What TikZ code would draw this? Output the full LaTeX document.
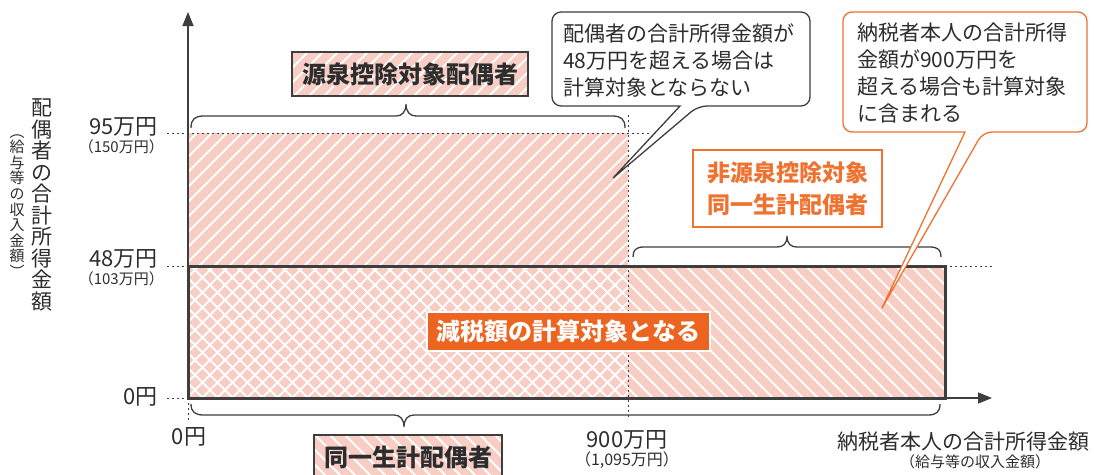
\documentclass[tikz,border=0pt]{standalone}
\usepackage{fontspec}
\setmainfont{Noto Sans CJK JP}
\usetikzlibrary{arrows.meta}
\definecolor{pinkbg}{RGB}{248,205,196}
\definecolor{darkline}{RGB}{62,62,62}
\definecolor{txt}{RGB}{45,45,45}
\definecolor{orangeL}{RGB}{238,114,48}
\definecolor{orangeF}{RGB}{236,100,32}
\newcommand{\hatchF}[4]{%
  \begin{scope}
    \clip (#1,#2) rectangle (#3,#4);
    \foreach \c in {225,240,...,1455} \draw[hatchline] (\c,0) -- ++(-500,500);
  \end{scope}}
\newcommand{\hatchB}[4]{%
  \begin{scope}
    \clip (#1,#2) rectangle (#3,#4);
    \foreach \c in {-300,-285,...,900} \draw[hatchline] (\c,0) -- ++(500,500);
  \end{scope}}
\begin{document}
\begin{tikzpicture}[x=1pt,y=-1pt,
  hatchline/.style={white,line width=1.8pt},
  axis/.style={darkline,line width=1.5pt,-{Triangle[length=14pt,width=11pt]}},
  dotline/.style={darkline,line width=0.9pt,dash pattern=on 2pt off 3pt},
  bracepath/.style={darkline,line width=1.3pt},
  lab/.style={inner sep=0pt,text=txt,font=\fontsize{22}{24}\selectfont},
  smalllab/.style={inner sep=0pt,text=txt,font=\fontsize{15}{17}\selectfont},
  bigbox/.style={draw=darkline,line width=1.4pt,inner sep=0pt,text=txt,font=\fontsize{24}{26}\bfseries\selectfont},
  calltext/.style={inner sep=0pt,text=txt,align=left,font=\fontsize{21}{27}\selectfont},
]
\useasboundingbox (0,0) rectangle (1094,474);
\clip (0,0) rectangle (1094,474);

% ---- filled regions ----
\fill[pinkbg] (188,133) rectangle (628,266);
\fill[pinkbg] (188,266) rectangle (945,398);
\hatchF{188}{133}{628}{398}
\hatchB{188}{266}{945}{398}

% ---- dotted guide lines ----
\draw[dotline] (167,133) -- (650,133);
\draw[dotline] (628,115) -- (628,420);
\draw[dotline] (167,266) -- (188,266);
\draw[dotline] (945,266) -- (992,266);
\draw[dotline] (167,398) -- (188,398);
\draw[dotline] (188,398) -- (188,420);

% ---- thick frame ----
\draw[darkline,line width=3pt] (188,266) rectangle (945,398);

% ---- axes ----
\coordinate (O) at (188,398);
\coordinate (ytip) at (188,12);
\coordinate (xtip) at (992,398);
\draw[axis] (O) -- (ytip);
\draw[axis] (O) -- (xtip);

% ---- braces ----
\draw[bracepath] (191,128) .. controls (191,119) and (195,116) .. (204,116) -- (396,116)
  .. controls (402,116) and (406,112) .. (406,104) .. controls (406,112) and (410,116) .. (416,116)
  -- (612,116) .. controls (621,116) and (625,119) .. (625,128);
\draw[bracepath] (633,257) .. controls (633,250) and (636,247) .. (644,247) -- (777,247)
  .. controls (783,247) and (787,244) .. (787,236) .. controls (787,244) and (791,247) .. (797,247)
  -- (930,247) .. controls (938,247) and (941,250) .. (941,257);
\draw[bracepath] (191,404) .. controls (191,412) and (195,415) .. (204,415) -- (394,415)
  .. controls (400,415) and (404,419) .. (404,427) .. controls (404,419) and (408,415) .. (414,415)
  -- (928,415) .. controls (936,415) and (940,412) .. (940,404);

% ---- hatched label boxes ----
\fill[pinkbg] (292,52) rectangle (528,96);
\hatchF{292}{52}{528}{96}
\node[bigbox,minimum width=236pt,minimum height=44pt] (gensen) at (410,74) {源泉控除対象配偶者};
\fill[pinkbg] (314,435) rectangle (502,479);
\hatchB{314}{435}{502}{479}
\node[bigbox,minimum width=188pt,minimum height=44pt] (douitsu) at (408,457) {同一生計配偶者};

% ---- orange boxes ----
\node[draw=orangeL,fill=white,line width=1.4pt,minimum width=189pt,minimum height=77pt,
  inner sep=0pt,align=center,text=orangeL,font=\fontsize{23}{32}\bfseries\selectfont] (hi) at (787.5,188.5)
  {非源泉控除対象\\同一生計配偶者};
\node[draw=white,fill=orangeF,line width=1.2pt,minimum width=283pt,minimum height=39pt,
  inner sep=0pt,text=white,font=\fontsize{24}{26}\bfseries\selectfont] (gen) at (568.5,331.5)
  {減税額の計算対象となる};

% ---- callout 1 ----
\coordinate (t1) at (613,178);
\draw[darkline,line width=1.3pt,fill=white] (680,106) [rounded corners=9pt] -- (552,106) -- (552,12) -- (810,12)
  -- (810,106) -- (698,106) [sharp corners] -- (t1) -- cycle;
\node[calltext,anchor=west] (c1) at (563,60) {配偶者の合計所得金額が\\48万円を超える場合は\\計算対象とならない};

% ---- callout 2 ----
\coordinate (t2) at (882,308);
\draw[orangeL,line width=1.3pt,fill=white] (965,132) [rounded corners=9pt] -- (843,132) -- (843,12) -- (1087,12)
  -- (1087,132) -- (983,132) [sharp corners] -- (t2) -- cycle;
\node[calltext,anchor=west,font=\fontsize{21}{26.7}\selectfont] (c2) at (857,73)
  {納税者本人の合計所得\\金額が900万円を\\超える場合も計算対象\\に含まれる};

% ---- axis labels ----
\node[lab,anchor=east] (y95) at (158,127) {95万円};
\node[smalllab,anchor=east] (y95s) at (164,147) {（150万円）};
\node[lab,anchor=east] (y48) at (158,259) {48万円};
\node[smalllab,anchor=east] (y48s) at (164,279) {（103万円）};
\node[lab,anchor=east] (y0) at (158,397) {0円};
\node[lab] (x0) at (189,437) {0円};
\node[lab] (x900) at (627,440) {900万円};
\node[smalllab,font=\fontsize{16}{18}\selectfont] (x900s) at (627,460) {（1,095万円）};
\node[lab,font=\fontsize{21}{24}\selectfont] (xt) at (963,442) {納税者本人の合計所得金額};
\node[smalllab] (xts) at (975,462) {（給与等の収入金額）};
\node[inner sep=0pt,text=txt,align=center,font=\fontsize{21}{21.5}\selectfont] (yt) at (42,205)
  {配\\偶\\者\\の\\合\\計\\所\\得\\金\\額};
\node[inner sep=0pt,text=txt,align=center,font=\fontsize{15}{15.6}\selectfont] (yts) at (17,206)
  {︵\\給\\与\\等\\の\\収\\入\\金\\額\\︶};
\end{tikzpicture}
\end{document}
